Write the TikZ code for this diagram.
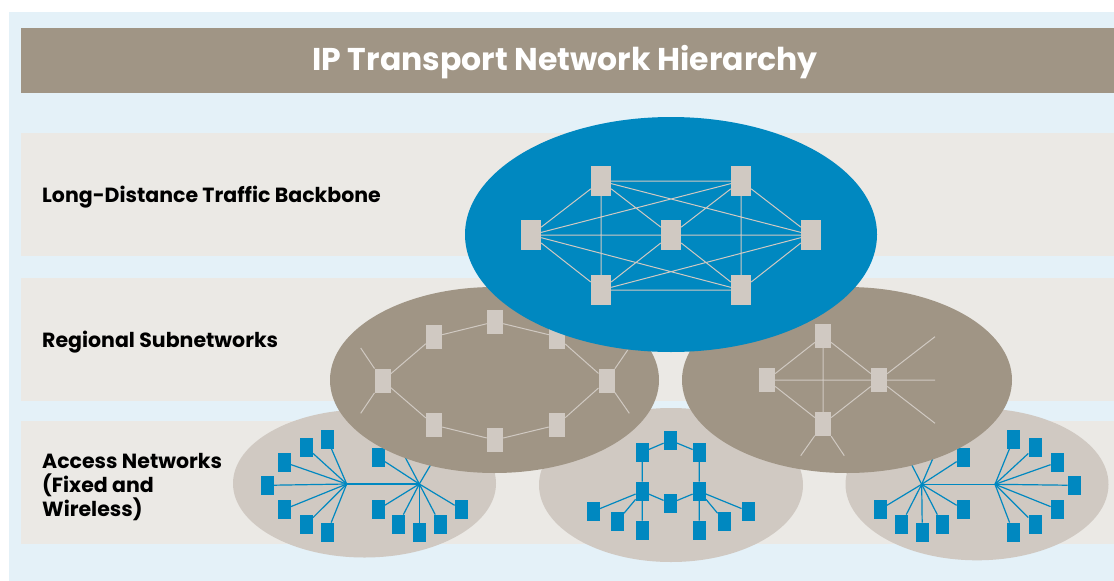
\documentclass[tikz,border=0pt]{standalone}
\usepackage{fontspec}
\setmainfont{Poppins}
\definecolor{bgblue}{HTML}{E4F1F8}
\definecolor{band}{HTML}{EBE9E5}
\definecolor{taupe}{HTML}{A09585}
\definecolor{ipblue}{HTML}{0088C0}
\definecolor{pale}{HTML}{D0C9C2}
\begin{document}
\begin{tikzpicture}[x=1pt,y=-1pt,
  bb/.style={rectangle,fill=pale,inner sep=0,minimum width=20pt,minimum height=30pt},
  rg/.style={rectangle,fill=pale,inner sep=0,minimum width=16pt,minimum height=24pt},
  ac/.style={rectangle,fill=ipblue,inner sep=0,minimum width=13pt,minimum height=19pt},
  bbline/.style={draw=pale,line width=1pt},
  rgline/.style={draw=pale,line width=1pt},
  acline/.style={draw=ipblue,line width=1.2pt},
  lbl/.style={anchor=west,inner sep=0,align=left,text=black,font=\bfseries\fontsize{20.5}{24}\selectfont},
  ttl/.style={inner sep=0,text=white,font=\bfseries\fontsize{31.5}{34}\selectfont}
]
\useasboundingbox (0,0) rectangle (1114,581);
\fill[white] (0,0) rectangle (1114,581);
\fill[bgblue] (9,12) rectangle (1114,581);
\fill[taupe] (21,28) rectangle (1114,93);
\fill[band] (21,133) rectangle (1114,256);
\fill[band] (21,278) rectangle (1114,401);
\fill[band] (21,421) rectangle (1114,544);
\node[ttl] (title) at (565,62) {IP Transport Network Hierarchy};

% ---------- access networks ----------
\fill[pale] (364.5,483.5) ellipse [x radius=131.5, y radius=74];
\fill[pale] (671,485) ellipse [x radius=132, y radius=77];
\fill[pale] (977,484.3) ellipse [x radius=131.5, y radius=76];

% left access
\coordinate (a1) at (346.7,484);
\coordinate (a2) at (419.3,484);
\foreach \n/\p in {1/{(327.3,439.3)},2/{(306.3,447.3)},3/{(284.3,462.3)},4/{(267.3,485.3)},5/{(284.3,509.3)},6/{(306.3,524.3)},7/{(327.3,532.3)}}
  \node[ac] (al\n) at \p {};
\foreach \n/\p in {1/{(378.3,457.3)},2/{(395,438)},3/{(443,444)},4/{(378.3,509.3)},5/{(398.3,524.3)},6/{(419.3,532.3)},7/{(440.3,524.3)},8/{(461.3,509.3)}}
  \node[ac] (ar\n) at \p {};
\foreach \n in {1,...,7} \draw[acline] (a1) -- (al\n);
\foreach \n in {1,...,8} \draw[acline] (a2) -- (ar\n);
\draw[acline] (a1) -- (a2);

% middle access
\node[ac] (mT) at (670.3,440.3) {};
\node[ac] (mUL) at (642.3,452.3) {};
\node[ac] (mUR) at (699.3,452.3) {};
\node[ac] (mHL) at (642.3,491.3) {};
\node[ac] (mHR) at (699.3,491.3) {};
\node[ac] (mC) at (670.3,503.3) {};
\node[ac] (ml1) at (593.3,511.3) {};
\node[ac] (ml2) at (617.3,521.3) {};
\node[ac] (ml3) at (642.3,530.3) {};
\node[ac] (mr1) at (699.3,530.3) {};
\node[ac] (mr2) at (724.3,521.3) {};
\node[ac] (mr3) at (748.3,511.3) {};
\draw[acline] (mT) -- (mUL) (mT) -- (mUR) (mUL) -- (mHL) (mUR) -- (mHR)
  (mHL) -- (mC) (mC) -- (mHR);
\foreach \n in {1,2,3} \draw[acline] (mHL) -- (ml\n) (mHR) -- (mr\n);

% right access
\coordinate (b1) at (921.7,484.3);
\coordinate (b2) at (995,484.3);
\foreach \n/\p in {1/{(963.3,457.3)},2/{(901.3,444.3)},3/{(940,442)},4/{(963.3,509.3)},5/{(942.3,524.3)},6/{(922.3,532.3)},7/{(901.3,524.3)},8/{(880.3,509.3)}}
  \node[ac] (bl\n) at \p {};
\foreach \n/\p in {1/{(1013.3,439.3)},2/{(1035,447.3)},3/{(1057.3,462.3)},4/{(1074.3,485.3)},5/{(1057.3,509.3)},6/{(1035,524.3)},7/{(1013.3,532.3)}}
  \node[ac] (br\n) at \p {};
\foreach \n in {1,...,8} \draw[acline] (b1) -- (bl\n);
\foreach \n in {1,...,7} \draw[acline] (b2) -- (br\n);
\draw[acline] (b1) -- (b2);

% ---------- regional subnetworks ----------
\fill[taupe] (494.5,380) ellipse [x radius=164.5, y radius=93];
\fill[taupe] (847,380) ellipse [x radius=165, y radius=93];

% left regional
\node[rg] (rL) at (382.7,380.7) {};
\node[rg] (rUL) at (434,336.7) {};
\node[rg] (rT) at (495,321.7) {};
\node[rg] (rUR) at (557,336.7) {};
\node[rg] (rR) at (606.7,380.7) {};
\node[rg] (rLR) at (557,425) {};
\node[rg] (rB) at (495,440) {};
\node[rg] (rLL) at (434,425) {};
\coordinate (s1) at (360.7,348);
\coordinate (s2) at (360.7,413.3);
\coordinate (s3) at (627.7,350);
\coordinate (s4) at (629.3,413.3);
\draw[rgline] (rL) -- (rUL) -- (rT) -- (rUR) -- (rR) -- (rLR) -- (rB) -- (rLL) -- (rL);
\draw[rgline] (rL) -- (s1) (rL) -- (s2) (rR) -- (s3) (rR) -- (s4);

% right regional
\node[rg] (qT) at (823,336) {};
\node[rg] (qL) at (767,380) {};
\node[rg] (qR) at (879,380) {};
\node[rg] (qB) at (823,424) {};
\coordinate (t1) at (935,336.7);
\coordinate (t2) at (935,380);
\coordinate (t3) at (935,423.3);
\coordinate (t4) at (800.7,455.7);
\coordinate (t5) at (844.3,455.7);
\draw[rgline] (qL) -- (qT) (qL) -- (qR) (qT) -- (qB) (qT) -- (qR) (qL) -- (qB) (qR) -- (qB);
\draw[rgline] (qR) -- (t1) (qR) -- (t2) (qR) -- (t3) (qB) -- (t4) (qB) -- (t5);

% ---------- backbone ----------
\fill[ipblue] (671,234.5) ellipse [x radius=206, y radius=117.5];
\node[bb] (TL) at (601,181) {};
\node[bb] (TR) at (741,181) {};
\node[bb] (L) at (531,235) {};
\node[bb] (C) at (671,235) {};
\node[bb] (R) at (811,235) {};
\node[bb] (BL) at (601,290) {};
\node[bb] (BR) at (741,290) {};
\draw[bbline] (L) -- (TL) (L) -- (TR) (L) -- (C) (L) -- (BL) (L) -- (BR)
  (TL) -- (TR) (TL) -- (C) (TL) -- (R) (TL) -- (BL)
  (TR) -- (C) (TR) -- (R) (TR) -- (BR)
  (C) -- (R) (C) -- (BL) (C) -- (BR)
  (R) -- (BL) (R) -- (BR) (BL) -- (BR);

% ---------- labels ----------
\node[lbl] (lab1) at (42,197) {Long-Distance Traffic Backbone};
\node[lbl] (lab2) at (42,342.5) {Regional Subnetworks};
\node[lbl] (lab3) at (42,487) {Access Networks\\(Fixed and\\Wireless)};
\end{tikzpicture}
\end{document}
